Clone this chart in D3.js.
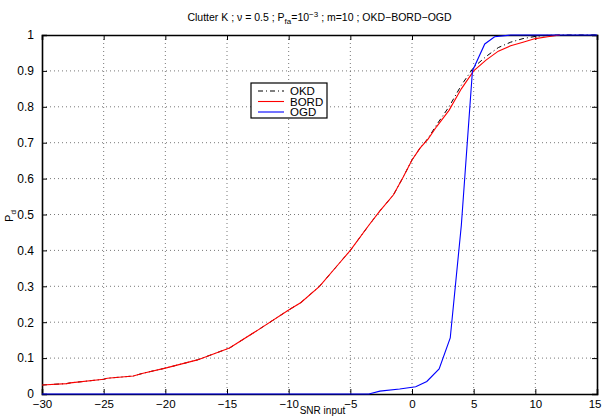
<!DOCTYPE html>
<html>
<head>
<meta charset="utf-8">
<script src="https://cdn.jsdelivr.net/npm/d3@7"></script>
<style>
  body { margin: 0; background: #fff; }
  svg { display: block; font-family: "Liberation Sans", Arial, sans-serif; }
</style>
</head>
<body>
<svg width="602" height="416"></svg>
<script>
"use strict"

// values
const snrBord = [-30, -28, -27.7, -25, -24.7, -22.6, -21.8, -20, -17.4, -14.8, -12.5, -10, -9, -7.5, -6, -5, -3.5, -2.6, -1.5, -0.7, 0, 0.65, 1.3, 2, 3, 4, 5, 6, 7, 8, 9, 10, 11, 12]
const pdBord = [0.025, 0.029, 0.031, 0.041, 0.044, 0.05, 0.058, 0.072, 0.095, 0.128, 0.178, 0.234, 0.255, 0.30, 0.36, 0.40, 0.47, 0.51, 0.555, 0.605, 0.652, 0.685, 0.71, 0.745, 0.79, 0.85, 0.9, 0.93, 0.955, 0.97, 0.98, 0.99, 0.995, 1.0]

const snrOkd = [-30, -28, -27.7, -25, -24.7, -22.6, -21.8, -20, -17.4, -14.8, -12.5, -10, -9, -7.5, -6, -5, -3.5, -2.6, -1.5, -0.7, 0, 0.65, 1.3, 2, 3, 4, 5, 6, 7, 8, 9, 10, 11, 12, 15]
const pdOkd = [0.025, 0.029, 0.031, 0.041, 0.044, 0.05, 0.058, 0.072, 0.095, 0.128, 0.178, 0.234, 0.255, 0.30, 0.36, 0.40, 0.47, 0.51, 0.555, 0.605, 0.652, 0.685, 0.712, 0.75, 0.8, 0.86, 0.91, 0.94, 0.965, 0.98, 0.99, 0.996, 0.999, 1.0, 1.0]

const snrOgd = [-30, -25, -20, -15, -10, -5, -3.5, -2.6, -1, 0.3, 1.2, 2.2, 3.1, 4, 4.9, 5.9, 6.7, 8, 10, 15]
const pdOgd = [0, 0, 0, 0, 0, 0, 0, 0.008, 0.014, 0.02, 0.035, 0.07, 0.156, 0.47, 0.9, 0.975, 0.995, 1.0, 1.0, 1.0]

const xTicks = [-30, -25, -20, -15, -10, -5, 0, 5, 10, 15]
const yTicks = [0, 0.1, 0.2, 0.3, 0.4, 0.5, 0.6, 0.7, 0.8, 0.9, 1]
const legendNames = ["OKD", "BORD", "OGD"]

const margin = {left: 42, top: 35, right: 5, bottom: 22}
const width = 602 - margin.left - margin.right
const height = 416 - margin.top - margin.bottom

const svg = d3.select("svg")
const g = svg.append("g").attr("transform", "translate(" + margin.left + "," + margin.top + ")")

const x = d3.scaleLinear().domain([-30, 15]).range([0, width])
const y = d3.scaleLinear().domain([0, 1]).range([height, 0])

// dotted grid
g.append("g").selectAll("line.gx")
    .data(xTicks.slice(1, -1))
    .enter().append("line")
    .attr("x1", d => x(d)).attr("x2", d => x(d))
    .attr("y1", 0).attr("y2", height)
    .attr("stroke", "#555").attr("stroke-width", 0.8)
    .attr("stroke-dasharray", "1,3")
g.append("g").selectAll("line.gy")
    .data(yTicks.slice(1, -1))
    .enter().append("line")
    .attr("x1", 0).attr("x2", width)
    .attr("y1", d => y(d)).attr("y2", d => y(d))
    .attr("stroke", "#555").attr("stroke-width", 0.8)
    .attr("stroke-dasharray", "1,3")

// axes, ticks pointing inward like matlab
const fmt = d => d < 0 ? "\u2212" + Math.abs(d) : String(d)
const xAxis = g.append("g")
    .attr("transform", "translate(0," + height + ")")
    .call(d3.axisBottom(x).tickValues(xTicks).tickSize(-5).tickPadding(6).tickFormat(fmt))
const yAxis = g.append("g")
    .call(d3.axisLeft(y).tickValues(yTicks).tickSize(-5).tickPadding(8).tickFormat(d3.format("")))
g.append("g").attr("transform", "translate(0,0)")
    .call(d3.axisTop(x).tickValues(xTicks).tickSize(-5).tickFormat(""))
g.append("g").attr("transform", "translate(" + width + ",0)")
    .call(d3.axisRight(y).tickValues(yTicks).tickSize(-5).tickFormat(""))

g.selectAll(".domain").attr("stroke", "#000").attr("stroke-width", 1.6)
g.selectAll(".tick line").attr("stroke", "#000")
g.selectAll(".tick text").style("font-size", "12px").attr("fill", "#000")
xAxis.selectAll(".tick text").style("font-size", "11.5px")
// last label would run off the right edge
xAxis.selectAll(".tick text").filter(d => d === 15)
    .attr("text-anchor", "end").attr("x", 4)

// curves
const line = d3.line().x(d => x(d[0])).y(d => y(d[1]))

g.append("path")
    .datum(d3.zip(snrOkd, pdOkd))
    .attr("d", line)
    .attr("fill", "none").attr("stroke", "#000").attr("stroke-width", 1)
    .attr("stroke-dasharray", "5,3,1,3")
g.append("path")
    .datum(d3.zip(snrBord, pdBord))
    .attr("d", line)
    .attr("fill", "none").attr("stroke", "#ff0000").attr("stroke-width", 1.1)
g.append("path")
    .datum(d3.zip(snrOgd, pdOgd))
    .attr("d", line)
    .attr("fill", "none").attr("stroke", "#0000ff").attr("stroke-width", 1.1)

// legend
const legend = svg.append("g").attr("transform", "translate(251,83)")
legend.append("rect")
    .attr("width", 76).attr("height", 35)
    .attr("fill", "#fff").attr("stroke", "#000").attr("stroke-width", 1.2)
const legendStyles = [
    {color: "#000", dash: "5,3,1,3"},
    {color: "#ff0000", dash: null},
    {color: "#0000ff", dash: null}
]
legendNames.forEach((name, i) => {
    const yy = 8 + i * 10.5
    legend.append("line")
        .attr("x1", 7).attr("x2", 33).attr("y1", yy).attr("y2", yy)
        .attr("stroke", legendStyles[i].color).attr("stroke-width", 1.1)
        .attr("stroke-dasharray", legendStyles[i].dash)
    legend.append("text")
        .attr("x", 39).attr("y", yy + 4)
        .style("font-size", "11.5px")
        .text(name)
})

// title
const title = svg.append("text")
    .attr("x", margin.left + width / 2).attr("y", 21)
    .attr("text-anchor", "middle")
    .style("font-size", "10.5px")
title.append("tspan").text("Clutter K ; \u03bd = 0.5 ; P")
title.append("tspan").attr("dy", 3).style("font-size", "8px").text("fa")
title.append("tspan").attr("dy", -3).text("=10")
title.append("tspan").attr("dy", -4).style("font-size", "8px").text("\u22123")
title.append("tspan").attr("dy", 4).text(" ; m=10 ; OKD\u2212BORD\u2212OGD")

// axis labels
svg.append("text")
    .attr("x", margin.left + width / 2 + 3).attr("y", 414)
    .attr("text-anchor", "middle")
    .style("font-size", "10px")
    .text("SNR input")

const ylab = svg.append("text")
    .attr("transform", "translate(13,216) rotate(-90)")
    .attr("text-anchor", "middle")
    .style("font-size", "11px")
ylab.append("tspan").text("P")
ylab.append("tspan").attr("dy", 3).style("font-size", "8px").text("d")
</script>
</body>
</html>
